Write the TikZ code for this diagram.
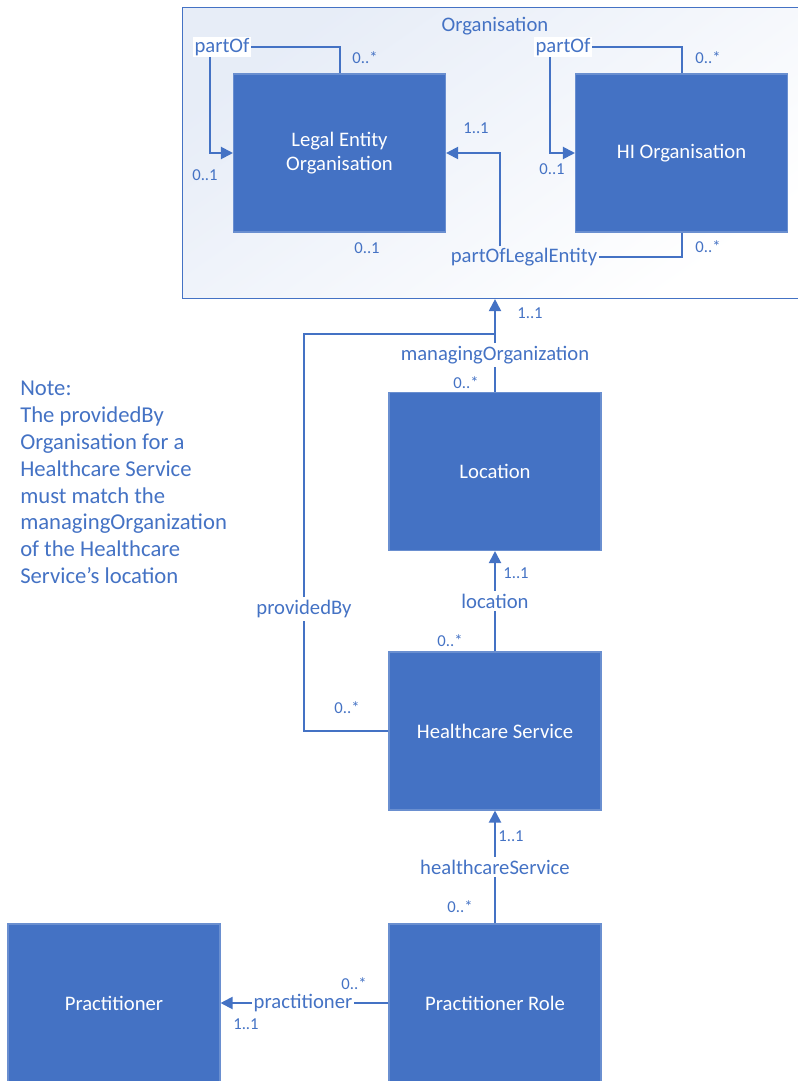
\documentclass[tikz,border=0pt]{standalone}
\usepackage{fontspec}
\setmainfont{Carlito}
\usetikzlibrary{arrows.meta,positioning}
\definecolor{ob}{HTML}{4472C4}
\definecolor{obline}{HTML}{6A8FD0}
\tikzset{
  cls/.style={draw=obline, line width=0.8pt, fill=ob, text=white, align=center,
    minimum width=159pt, minimum height=118.5pt, inner sep=0pt,
    font=\fontsize{15.5}{18.5}\selectfont},
  conn/.style={draw=ob, line width=1.5pt},
  arr/.style={conn, -{Triangle[length=9pt,width=9pt]}},
  lbl/.style={text=ob, inner sep=2pt, font=\fontsize{15.5}{18}\selectfont},
  mult/.style={text=ob, inner sep=0pt, font=\fontsize{12.5}{14}\selectfont},
}
\begin{document}
\begin{tikzpicture}[x=0.75pt,y=-0.75pt]
\useasboundingbox (0,0) rectangle (798,1081);
% container
\node[draw=ob, line width=0.8pt, top color=ob!13!white, bottom color=white, shading angle=35,
  minimum width=468pt, minimum height=218.25pt, anchor=north west, inner sep=0pt] (org) at (182,7) {};
\node[lbl] (orgt) at (495,26) {Organisation};
% classes
\node[cls] (legal) at (339.5,153) {Legal Entity\\Organisation};
\node[cls] (hi) at (681.5,153) {HI Organisation};
\node[cls] (location) at (495,471.5) {Location};
\node[cls] (hs) at (495,731) {Healthcare Service};
\node[cls] (pr) at (495,1003) {Practitioner Role};
\node[cls] (prac) at (114,1003) {Practitioner};
% partOf left
\node[lbl, fill=white, inner sep=1pt] (lpo) at (222,47) {partOf};
\draw[conn] (lpo.east) -| (legal.north);
\draw[arr] ([xshift=-9pt]lpo.south) |- (legal.west);
\node[mult] (m1) at (365,58) {0..*};
\node[mult] (m2) at (205,175) {0..1};
% partOf right
\node[lbl, fill=white, inner sep=1pt] (rpo) at (563,47) {partOf};
\draw[conn] (rpo.east) -| (hi.north);
\draw[arr] ([xshift=-10pt]rpo.south) |- (hi.west);
\node[mult] (m3) at (708,58) {0..*};
\node[mult] (m4) at (552,169) {0..1};
% partOfLegalEntity
\node[lbl, inner sep=1pt] (pole) at (524,257) {partOfLegalEntity};
\draw[conn] (hi.south) |- (pole.east);
\draw[arr] ([xshift=-18pt]pole.north) |- (legal.east);
\node[mult] (m5) at (476,128) {1..1};
\node[mult] (m6) at (367,248) {0..1};
\node[mult] (m7) at (708,247) {0..*};
% managingOrganization
\node[lbl] (mo) at (495,355) {managingOrganization};
\draw[conn] (location.north) -- (mo.south);
\draw[arr] (mo.north) -- (mo.north |- org.south);
\node[mult] (m8) at (530,313) {1..1};
\node[mult] (m9) at (466,383) {0..*};
% providedBy
\coordinate (join) at (495,334);
\node[lbl] (pb) at (304,609) {providedBy};
\draw[conn] (hs.west) -| (pb.south);
\draw[conn] (pb.north) |- (join);
\node[mult] (m10) at (347,708) {0..*};
% location
\node[lbl] (loc) at (495,601) {location};
\draw[conn] (hs.north) -- (loc.south);
\draw[arr] (loc.north) -- (location.south);
\node[mult] (m11) at (516,573) {1..1};
\node[mult] (m12) at (450,641) {0..*};
% healthcareService
\node[lbl] (hsl) at (495,867) {healthcareService};
\draw[conn] (pr.north) -- (hsl.south);
\draw[arr] (hsl.north) -- (hs.south);
\node[mult] (m13) at (511,836) {1..1};
\node[mult] (m14) at (460,907) {0..*};
% practitioner
\node[lbl, inner sep=1pt] (pl) at (303,1003) {practitioner};
\draw[conn] (pr.west) -- (pl.east);
\draw[arr] (pl.west) -- (prac.east);
\node[mult] (m15) at (354,984) {0..*};
\node[mult] (m16) at (246,1024) {1..1};
% note
\node[text=ob, anchor=north west, align=left, inner sep=0pt,
  font=\fontsize{17}{20.1}\selectfont] (note) at (20,381)
  {Note:\\The providedBy\\Organisation for a\\Healthcare Service\\must match the\\managingOrganization\\of the Healthcare\\Service’s location};
\end{tikzpicture}
\end{document}
